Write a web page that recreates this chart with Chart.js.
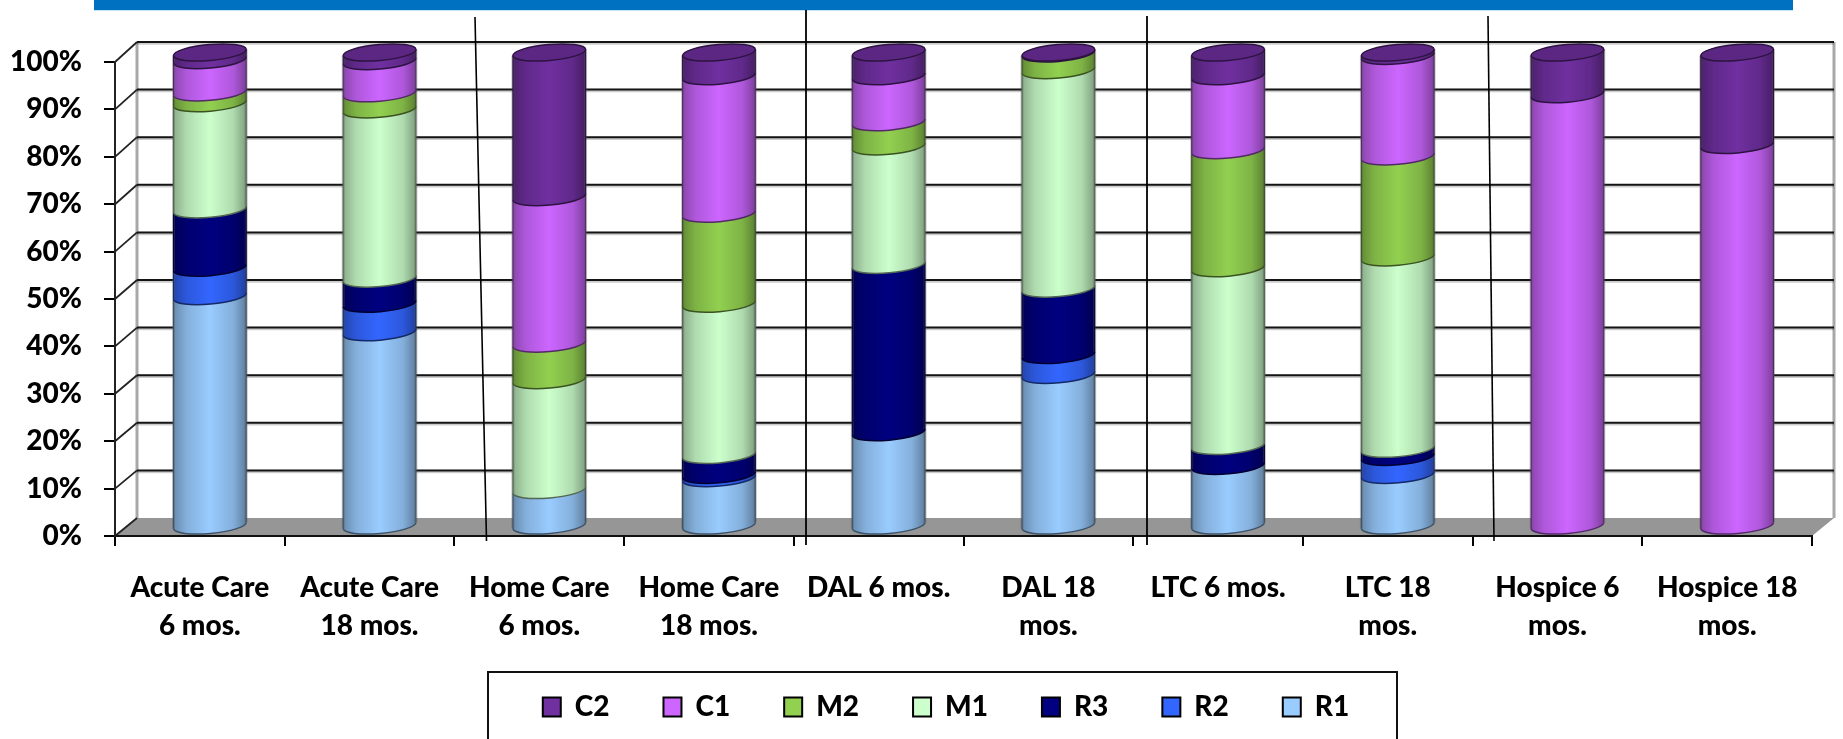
<!DOCTYPE html>
<html>
<head>
<meta charset="utf-8">
<title>Stacked cylinders by care setting</title>
<script src="https://cdn.jsdelivr.net/npm/chart.js@4"></script>
<style>
    html, body { margin: 0; padding: 0; background: #fff; overflow: hidden; }
    #chartBox { width: 1843px; height: 739px; }
</style>
</head>
<body>
<div id="chartBox"><canvas id="careChart"></canvas></div>
<script>
const categories = [
    ['Acute Care', '6 mos.'], ['Acute Care', '18 mos.'],
    ['Home Care', '6 mos.'], ['Home Care', '18 mos.'],
    ['DAL 6 mos.'], ['DAL 18', 'mos.'],
    ['LTC 6 mos.'], ['LTC 18', 'mos.'],
    ['Hospice 6', 'mos.'], ['Hospice 18', 'mos.']
];
const seriesNames = ['R1', 'R2', 'R3', 'M1', 'M2', 'C1', 'C2'];
const r1 = [48.6, 41, 7.7, 10.2, 19.9, 32, 12.8, 10.9, 0, 0];
const r2 = [6, 6, 0, 0.7, 0, 4.2, 0, 3.8, 0, 0];
const r3 = [12.3, 5.3, 0, 4.2, 35.3, 14, 4.2, 1.7, 0, 0];
const m1 = [22.4, 35.7, 23.2, 31.9, 25, 46.1, 37.5, 40.4, 0, 0];
const m2 = [2.3, 3.4, 7.7, 19, 5.1, 3.5, 24.9, 21.3, 0, 0];
const c1 = [6.8, 6.8, 30.9, 29, 9.7, 0, 15.6, 21.2, 91.2, 80.5];
const c2 = [1.6, 1.8, 30.5, 5, 5, 0.2, 5, 0.7, 8.8, 19.5];
const seriesValues = [r1, r2, r3, m1, m2, c1, c2];
const seriesColors = ['#99CCFF', '#3366FF', '#000080', '#CCFFCC', '#92D050', '#CC66FF', '#7030A0'];

const FONT = 'Lato';
const FONT_SIZE = 28;
const DEPTH_X = 22;
const CYL_DX = 10;   // cylinders stand in the middle of the floor
const CYL_DY = 9.5;
const CYL_RY = 8;
const CYL_TILT = -5 * Math.PI / 180;

// darken a hex colour
const shade = (hex, f) => {
    const n = parseInt(hex.slice(1), 16);
    const r = Math.round((n >> 16) * f);
    const g = Math.round(((n >> 8) & 255) * f);
    const b = Math.round((n & 255) * f);
    return `rgb(${r},${g},${b})`;
};

function line(ctx, x1, y1, x2, y2, color, width) {
    ctx.strokeStyle = color;
    ctx.lineWidth = width;
    ctx.beginPath();
    ctx.moveTo(x1, y1);
    ctx.lineTo(x2, y2);
    ctx.stroke();
}

// back wall, side wall and floor
const wallsPlugin = {
    id: 'walls',
    beforeDraw(chart) {
        const { ctx, scales: { x, y } } = chart;
        const left = x.left, right = x.right;
        const backY = v => y.getPixelForValue(v) - 18 - v * 0.02;

        ctx.save();
        ctx.fillStyle = '#969696';
        ctx.beginPath();
        ctx.moveTo(left, y.getPixelForValue(0));
        ctx.lineTo(right, y.getPixelForValue(0));
        ctx.lineTo(right + DEPTH_X, backY(0));
        ctx.lineTo(left + DEPTH_X, backY(0));
        ctx.closePath();
        ctx.fill();

        line(ctx, left + DEPTH_X, backY(0), left + DEPTH_X, backY(100), '#a8a8a8', 3);
        line(ctx, right + DEPTH_X, backY(0), right + DEPTH_X, backY(100), '#a8a8a8', 3);

        y.ticks.forEach(t => {
            const yp = y.getPixelForValue(t.value);
            line(ctx, left, yp, left + DEPTH_X, backY(t.value), '#222', 1.8);
            if (t.value > 0) {
                line(ctx, left + DEPTH_X, backY(t.value) + 1, right + DEPTH_X, backY(t.value) + 1, 'rgba(0,0,0,0.2)', 3.5);
                line(ctx, left + DEPTH_X, backY(t.value), right + DEPTH_X, backY(t.value), '#141414', 2);
            }
        });
        ctx.restore();
    }
};

function drawCylinder(ctx, el, color, isTop, capColor) {
    const cx = el.x + CYL_DX;
    const topY = el.y - CYL_DY;
    const baseY = el.base - CYL_DY;
    const rx = el.width / 2;
    const sideX = rx * Math.cos(CYL_TILT);
    const sideY = rx * Math.sin(CYL_TILT);

    const grad = ctx.createLinearGradient(cx - rx, 0, cx + rx, 0);
    grad.addColorStop(0, shade(color, 0.68));
    grad.addColorStop(0.18, shade(color, 0.86));
    grad.addColorStop(0.5, color);
    grad.addColorStop(0.82, shade(color, 0.86));
    grad.addColorStop(1, shade(color, 0.62));

    ctx.beginPath();
    ctx.ellipse(cx, baseY, rx, CYL_RY, CYL_TILT, 0, Math.PI);
    ctx.ellipse(cx, topY, rx, CYL_RY, CYL_TILT, Math.PI, Math.PI * 2);
    ctx.closePath();
    ctx.fillStyle = grad;
    ctx.fill();

    const edge = shade(color, 0.4);
    // sides, with the soft grey halo of the original
    [[cx - sideX, -sideY], [cx + sideX, sideY]].forEach(([sx, sy]) => {
        line(ctx, sx, baseY + sy, sx, topY + sy, 'rgba(90,90,90,0.35)', 3);
        line(ctx, sx, baseY + sy, sx, topY + sy, edge, 1.1);
    });
    ctx.strokeStyle = edge;
    ctx.lineWidth = 1.5;
    ctx.beginPath();
    ctx.ellipse(cx, baseY, rx, CYL_RY, CYL_TILT, 0, Math.PI);
    ctx.stroke();

    if (isTop) {
        ctx.beginPath();
        ctx.ellipse(cx, topY, rx, CYL_RY, CYL_TILT, 0, Math.PI * 2);
        ctx.fillStyle = shade(capColor, 0.82);
        ctx.fill();
        ctx.strokeStyle = shade(capColor, 0.4);
        ctx.stroke();
    }
}

// bars are drawn as cylinders from the bar elements the library laid out
const cylinderPlugin = {
    id: 'cylinders',
    beforeDatasetsDraw(chart) {
        const ctx = chart.ctx;
        ctx.save();
        categories.forEach((cat, j) => {
            let last = -1;
            seriesValues.forEach((vals, i) => { if (vals[j] > 0) last = i; });
            seriesValues.forEach((vals, i) => {
                if (vals[j] <= 0) return;
                const el = chart.getDatasetMeta(i).data[j];
                drawCylinder(ctx, el, seriesColors[i], i === last, seriesColors[last]);
            });
        });
        ctx.restore();
        return false;
    }
};

// blue strip, hand-drawn divider lines and the legend frame from the slide
const slidePlugin = {
    id: 'slide',
    afterLayout(chart) {
        const legend = chart.legend;
        legend.left += 40;
        legend.right += 40;
        legend.top = 707 - legend.options.labels.padding - FONT_SIZE / 2;
    },
    afterDraw(chart) {
        const ctx = chart.ctx;
        ctx.save();
        ctx.fillStyle = '#BFE6F2';
        ctx.fillRect(94, 0, 1699, 11);
        ctx.fillStyle = '#0070C0';
        ctx.fillRect(94, 0, 1699, 10);

        line(ctx, 475, 17, 486.5, 541, '#000', 1.6);
        line(ctx, 806, 10, 806, 545, '#000', 1.8);
        line(ctx, 1147, 16, 1147, 545, '#000', 1.8);
        line(ctx, 1488, 16, 1494, 541, '#000', 1.6);

        ctx.strokeStyle = '#111';
        ctx.lineWidth = 2;
        ctx.beginPath();
        ctx.moveTo(488, 745);
        ctx.lineTo(488, 672);
        ctx.lineTo(1397, 672);
        ctx.lineTo(1397, 745);
        ctx.stroke();
        ctx.restore();
    }
};

const careChart = new Chart(document.getElementById('careChart'), {
    type: 'bar',
    data: {
        labels: categories,
        datasets: seriesNames.map((name, i) => ({
            label: name,
            data: seriesValues[i],
            backgroundColor: seriesColors[i],
            borderColor: '#000',
            borderWidth: 2,
            categoryPercentage: 1,
            barPercentage: 0.43
        }))
    },
    options: {
        responsive: true,
        maintainAspectRatio: false,
        animation: false,
        layout: { padding: { top: 62, right: 31, left: 0, bottom: 0 } },
        plugins: {
            title: { display: false },
            tooltip: { enabled: false },
            legend: {
                position: 'bottom',
                reverse: true,
                labels: {
                    boxWidth: 18,
                    boxHeight: 19,
                    padding: 54,
                    color: '#000',
                    font: { family: FONT, size: FONT_SIZE, weight: '900' }
                }
            }
        },
        scales: {
            x: {
                stacked: true,
                afterFit: scale => { scale.height = 203 - scale.chart.legend.height; },
                grid: { drawOnChartArea: false, color: '#000', lineWidth: 2, tickLength: 10 },
                border: { color: '#111', width: 2 },
                ticks: {
                    color: '#000',
                    padding: 23,
                    maxRotation: 0,
                    autoSkip: false,
                    font: { family: FONT, size: FONT_SIZE, weight: '900', lineHeight: 1.36 }
                }
            },
            y: {
                stacked: true,
                min: 0,
                max: 100,
                afterFit: scale => { scale.width = 115; },
                grid: { drawOnChartArea: false, color: '#000', lineWidth: 2, tickLength: 11 },
                border: { color: '#222', width: 2 },
                ticks: {
                    stepSize: 10,
                    color: '#000',
                    padding: 22,
                    callback: v => v + '%',
                    font: { family: FONT, size: FONT_SIZE, weight: '900' }
                }
            }
        }
    },
    plugins: [wallsPlugin, cylinderPlugin, slidePlugin]
});
</script>
</body>
</html>
